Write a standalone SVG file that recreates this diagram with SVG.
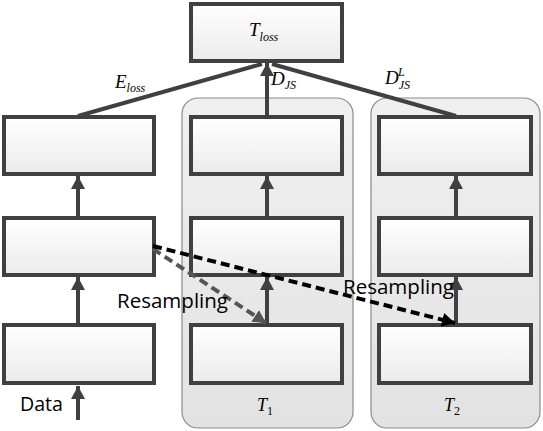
<svg xmlns="http://www.w3.org/2000/svg" width="543" height="431" viewBox="0 0 543 431">
<defs>
<linearGradient id="bg" x1="0" y1="0" x2="0" y2="1"><stop offset="0" stop-color="#ffffff"/><stop offset="1" stop-color="#ebebeb"/></linearGradient>
<linearGradient id="pg" x1="0" y1="0" x2="0" y2="1"><stop offset="0" stop-color="#f0f0f0"/><stop offset="1" stop-color="#e2e2e2"/></linearGradient>
<marker id="ah" markerWidth="14" markerHeight="14" refX="13" refY="7" orient="auto" markerUnits="userSpaceOnUse"><path d="M0,0 L13,7 L0,14 Z" fill="#404040"/></marker>
<marker id="ahb" markerWidth="14" markerHeight="14" refX="13" refY="7" orient="auto" markerUnits="userSpaceOnUse"><path d="M0,0 L13,7 L0,14 Z" fill="#000"/></marker>
<marker id="ahg" markerWidth="14" markerHeight="14" refX="13" refY="7" orient="auto" markerUnits="userSpaceOnUse"><path d="M0,0 L13,7 L0,14 Z" fill="#555"/></marker>
</defs>
<style>
.box{fill:url(#bg);stroke:#404040;stroke-width:4}
.panel{fill:url(#pg);stroke:#8a8a8a;stroke-width:1.2}
.ln{stroke:#404040;stroke-width:4;fill:none}
.ar{stroke:#404040;stroke-width:4;fill:none;marker-end:url(#ah)}
.m{font-family:"Liberation Serif",serif;font-style:italic;fill:#000}
.s{font-family:"Open Sans","Liberation Sans",sans-serif;font-size:20px;fill:#000}
</style>
<g id="panel-T1"><rect class="panel" x="182" y="98" width="171" height="330" rx="16"/><text class="m" x="257" y="411" font-size="18">T<tspan font-style="normal" font-size="12" dy="4">1</tspan></text></g>
<g id="panel-T2"><rect class="panel" x="371" y="98" width="169" height="330" rx="16"/><text class="m" x="444" y="411" font-size="18">T<tspan font-style="normal" font-size="12" dy="4">2</tspan></text></g>
<g id="Tloss"><rect class="box" x="191" y="4" width="151" height="57"/><text class="m" x="249" y="36" font-size="19">T<tspan font-size="12" dy="5">loss</tspan></text></g>
<g id="L1"><rect class="box" x="4" y="117" width="150" height="57"/></g>
<g id="L2"><rect class="box" x="4" y="218" width="150" height="57"/></g>
<g id="L3"><rect class="box" x="4" y="325" width="150" height="58"/></g>
<g id="M1"><rect class="box" x="191" y="117" width="151" height="57"/></g>
<g id="M2"><rect class="box" x="191" y="218" width="151" height="57"/></g>
<g id="M3"><rect class="box" x="191" y="325" width="151" height="58"/></g>
<g id="R1"><rect class="box" x="379" y="117" width="152" height="57"/></g>
<g id="R2"><rect class="box" x="379" y="218" width="152" height="57"/></g>
<g id="R3"><rect class="box" x="379" y="325" width="152" height="58"/></g>
<g id="connectors">
<line class="ar" x1="78" y1="420" x2="78" y2="386"/>
<line class="ar" x1="78" y1="323" x2="78" y2="277"/>
<line class="ar" x1="78" y1="216" x2="78" y2="176"/>
<line class="ar" x1="267" y1="323" x2="267" y2="277"/>
<line class="ar" x1="267" y1="216" x2="267" y2="176"/>
<line class="ar" x1="456" y1="323" x2="456" y2="277"/>
<line class="ar" x1="456" y1="216" x2="456" y2="176"/>
<line class="ar" x1="267" y1="115" x2="267" y2="63"/>
<line class="ln" x1="78" y1="116" x2="262" y2="64"/>
<line class="ln" x1="456" y1="116" x2="272" y2="64"/>
<line x1="153" y1="249" x2="266" y2="323" stroke="#555" stroke-width="4" stroke-dasharray="9,5" marker-end="url(#ahg)"/>
<line x1="153" y1="246" x2="455" y2="323" stroke="#000" stroke-width="4" stroke-dasharray="9,5" marker-end="url(#ahb)"/>
</g>
<g id="labels">
<text class="m" x="115" y="88" font-size="19">E<tspan font-size="12" dy="4">loss</tspan></text>
<text class="m" x="271" y="85" font-size="19">D<tspan font-size="12" dy="4">JS</tspan></text>
<text class="m" x="385" y="84" font-size="19">D<tspan font-size="12" dy="5">JS</tspan><tspan font-size="12" dx="-12" dy="-13">L</tspan></text>
<text class="s" x="117" y="308" textLength="111" lengthAdjust="spacingAndGlyphs">Resampling</text>
<text class="s" x="343" y="294" textLength="111" lengthAdjust="spacingAndGlyphs">Resampling</text>
<text class="s" x="20" y="411" textLength="43" lengthAdjust="spacingAndGlyphs">Data</text>
</g>
</svg>
